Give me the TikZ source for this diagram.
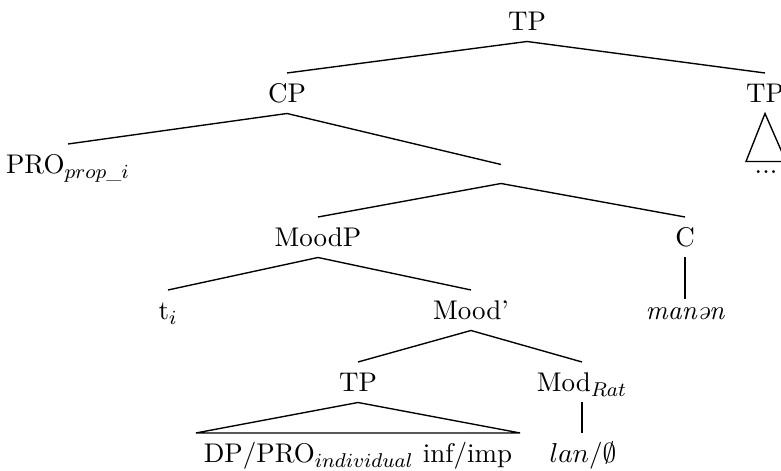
\documentclass[tikz,border=0pt]{standalone}
\usepackage{fontspec}
\usepackage{amsmath}
\begin{document}
\begin{tikzpicture}[x=0.4pt,y=-0.4pt,
  font=\fontsize{10.8pt}{13pt}\selectfont,
  lbl/.style={anchor=base, inner sep=0pt, text height=11.8pt, text depth=4pt},
  branch/.style={line width=0.55pt}]
\useasboundingbox (0,0) rectangle (781,471);
\clip (0,0) rectangle (781,471);
% labels, placed on their baselines
\node[lbl] (tp) at (527,31) {TP};
\node[lbl] (cp) at (287,103) {CP};
\node[lbl] (tpr) at (765,103) {TP};
\node[lbl] (pro) at (68,174) {PRO$_{prop\text{\_}i}$};
\node[inner sep=0pt, minimum height=7.2pt, minimum width=0pt] (bar) at (501,174) {};
\node[lbl, text height=4.8pt] (dots) at (766,174) {...};
\node[lbl] (moodp) at (318,247) {MoodP};
\node[lbl] (c) at (685,247) {C};
\node[lbl] (ti) at (168,320) {t$_i$};
\node[lbl] (moodbar) at (471,320) {Mood'};
\node[lbl, text height=8pt] (manan) at (685,320) {\itshape manən};
\node[lbl] (tpl) at (358,392) {TP};
\node[lbl] (mod) at (582,392) {Mod$_{Rat}$};
\node[lbl] (dp) at (358,463) {DP/PRO$_{individual}$ inf/imp};
\node[lbl] (lan) at (583,463) {$lan$/$\emptyset$};
% branches
\draw[branch] (tp.south) -- (cp.north);
\draw[branch] (tp.south) -- (tpr.north);
\draw[branch] (cp.south) -- (pro.north);
\draw[branch] (cp.south) -- (bar.north);
\draw[branch] (bar.south) -- (moodp.north);
\draw[branch] (bar.south) -- (c.north);
\draw[branch] (c.south) -- (manan.north);
\draw[branch] (moodp.south) -- (ti.north);
\draw[branch] (moodp.south) -- (moodbar.north);
\draw[branch] (moodbar.south) -- (tpl.north);
\draw[branch] (moodbar.south) -- (mod.north);
\draw[branch] (mod.south) -- (mod.south |- lan.north);
% roofs over collapsed constituents
\draw[branch] (tpl.south) -- ([xshift=-3pt]dp.north west) -- ([xshift=3pt]dp.north east) -- cycle;
\draw[branch] (tpr.south) -- ([xshift=-8pt]dots.north) -- ([xshift=8pt]dots.north) -- cycle;
\end{tikzpicture}
\end{document}
